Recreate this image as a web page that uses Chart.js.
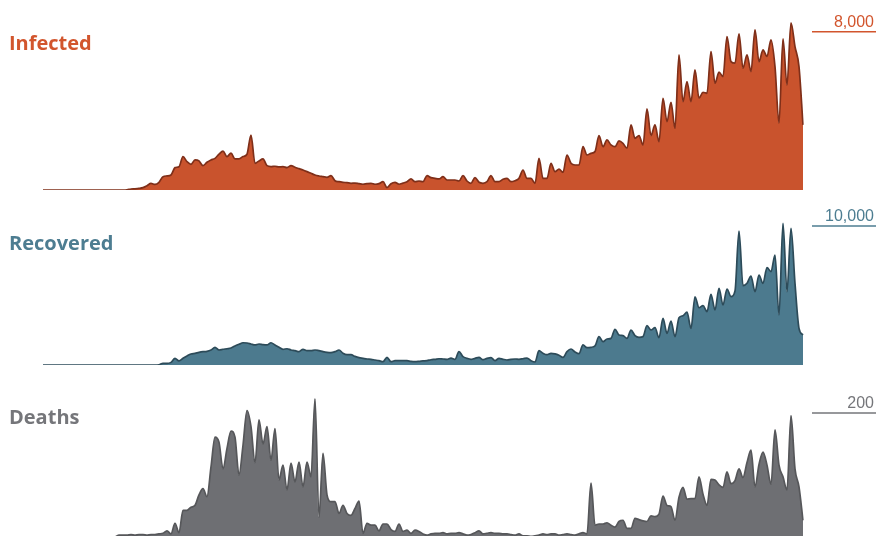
<!DOCTYPE html>
<html>
<head>
<meta charset="utf-8">
<script src="https://cdn.jsdelivr.net/npm/chart.js@4.4.0/dist/chart.umd.min.js"></script>
<style>
  html, body { margin: 0; padding: 0; background: #fff; overflow: hidden; }
  #wrap { position: relative; width: 876px; height: 536px; }
  .panel { position: absolute; left: 0; width: 876px; }
  .panel canvas { display: block; }
</style>
</head>
<body>
<div id="wrap">
  <div class="panel" id="p-inf" style="top:0;height:195px;"><canvas id="c-inf"></canvas></div>
  <div class="panel" id="p-rec" style="top:195px;height:175px;"><canvas id="c-rec"></canvas></div>
  <div class="panel" id="p-dth" style="top:370px;height:175px;"><canvas id="c-dth"></canvas></div>
</div>
<script>
// daily counts (one value every ~4px)
const infected = [
  0,0,0,0,0,0,0,0,0,0,
  0,0,0,0,0,0,0,0,0,0,
  0,10,50,60,80,120,220,330,280,390,
  675,710,760,1130,1180,1690,1430,1300,1520,1470,
  1230,1400,1520,1600,1810,1970,1690,1860,1570,1570,
  1690,1810,2780,1350,1470,1570,1230,1180,1200,1165,
  1180,1130,1230,1150,1080,1010,930,845,760,710,
  675,640,725,470,420,390,370,340,350,320,
  290,320,340,290,320,420,120,320,390,290,
  350,420,560,420,455,420,725,625,590,560,
  675,505,505,505,455,725,455,340,625,390,
  340,420,725,420,420,540,590,420,470,590,
  1010,590,590,340,1600,590,590,1350,930,1060,
  895,1770,1350,1265,1265,2190,1770,1855,1940,2750,
  2190,2530,2280,2190,2480,2360,2110,3290,2615,2750,
  2280,4100,2750,3290,2445,4640,3460,4435,3120,6830,
  4470,5480,4470,6070,4640,4940,4890,7000,5400,5955,
  5735,7760,6490,6410,7900,6160,6830,5990,8100,6490,
  7085,6750,7590,6240,3390,7640,5310,8450,7250,6240,
  3290
];

const recovered = [
  0,0,0,0,0,0,0,0,0,0,
  0,0,0,0,0,0,0,0,0,0,
  0,0,0,0,0,0,0,0,0,20,
  120,120,190,480,290,480,650,790,840,910,
  960,985,1080,1270,1080,1130,1170,1220,1370,1490,
  1600,1580,1510,1440,1510,1460,1440,1600,1440,1270,
  1130,1170,1080,1030,960,1130,1030,1030,1080,1030,
  960,910,890,960,1080,840,740,740,620,530,
  480,430,410,360,310,240,550,240,310,310,
  310,310,260,240,260,290,310,380,410,450,
  430,410,500,410,960,600,480,410,480,550,
  380,480,530,310,480,410,360,410,430,410,
  450,500,310,215,1030,840,740,840,800,700,
  550,960,1150,935,815,1440,1245,1270,1370,2040,
  1680,1870,1915,2565,2155,2110,1915,2515,2110,1990,
  2040,2830,2515,2685,1965,3355,2275,3165,2040,3400,
  3545,3800,2635,4900,4120,4265,3835,5080,3955,5515,
  4315,5465,4915,5320,9635,5700,5875,6400,5270,6470,
  5875,7000,6710,7900,3595,10185,5270,9830,5870,2635,
  2160
];

const deaths = [
  0,0,0,0,0,0,0,0,0,0,
  0,0,0,0,0,0,0,0,0,3,
  3,3,4,3,4,4,3,4,4,5,
  6,10,5,22,7,43,43,48,51,68,
  78,65,113,161,153,110,143,171,161,100,
  148,204,178,120,189,150,178,124,175,92,
  116,76,119,89,121,81,121,97,223,32,
  135,68,57,57,38,51,38,35,46,58,
  6,22,19,19,10,21,21,12,9,21,
  9,11,6,11,9,5,3,5,6,6,
  7,5,6,6,7,5,3,4,7,10,
  5,6,7,6,6,5,5,4,3,5,
  2,2,1,2,3,5,4,5,5,3,
  4,5,4,3,5,7,5,87,19,21,
  21,23,19,16,25,27,14,14,30,28,
  26,25,34,33,37,66,51,49,27,64,
  80,61,62,62,97,69,51,93,92,84,
  80,105,86,91,110,96,120,140,81,117,
  137,116,85,173,116,97,76,196,110,81,
  27
];

const days = infected.map((_, i) => i);

// panel titles / reference ticks
const titles = ['Infected', 'Recovered', 'Deaths'];
const refTicks = [8000, 10000, 200];
const yMax = [9000, 11000, 250];

// title + reference tick with short rule on the right
const panelText = {
  id: 'panelText',
  afterDraw(chart, args, o) {
    const ctx = chart.ctx;
    const y = chart.scales.y.getPixelForValue(o.tick);
    ctx.save();
    ctx.fillStyle = o.color;
    ctx.textBaseline = 'alphabetic';
    ctx.font = 'bold 20px "Open Sans"';
    ctx.textAlign = 'left';
    ctx.fillText(o.title, 9, o.titleY);
    ctx.font = '16px "Liberation Sans"';
    ctx.textAlign = 'right';
    ctx.fillText(o.tick.toLocaleString('en-US'), 874, y - 5);
    ctx.strokeStyle = o.color;
    ctx.lineWidth = 1.5;
    ctx.beginPath();
    ctx.moveTo(812, y);
    ctx.lineTo(876, y);
    ctx.stroke();
    ctx.restore();
  }
};

function makePanel(id, idx, data, fillColor, lineColor, textColor, pad, titleY) {
  return new Chart(document.getElementById(id), {
    type: 'line',
    data: {
      labels: days,
      datasets: [{
        data,
        fill: 'origin',
        backgroundColor: fillColor,
        borderColor: lineColor,
        borderWidth: 1.7,
        pointRadius: 0,
        cubicInterpolationMode: 'monotone',
      }],
    },
    options: {
      responsive: true,
      maintainAspectRatio: false,
      animation: false,
      layout: { padding: { left: 43, right: 73, top: pad[0], bottom: pad[1] } },
      plugins: {
        legend: { display: false },
        tooltip: { enabled: false },
        panelText: { title: titles[idx], tick: refTicks[idx], color: textColor, titleY },
      },
      scales: {
        x: { display: false, offset: false },
        y: { display: false, min: 0, max: yMax[idx] },
      },
    },
    plugins: [panelText],
  });
}

makePanel('c-inf', 0, infected, '#c9532d', '#7f2f19', '#d2552d', [12, 5], 50);
makePanel('c-rec', 1, recovered, '#4c7a8e', '#2d4b59', '#4d7d91', [17, 5], 55);
makePanel('c-dth', 2, deaths, '#6e6f73', '#56575a', '#75767a', [12, 8], 54);
</script>
</body>
</html>
